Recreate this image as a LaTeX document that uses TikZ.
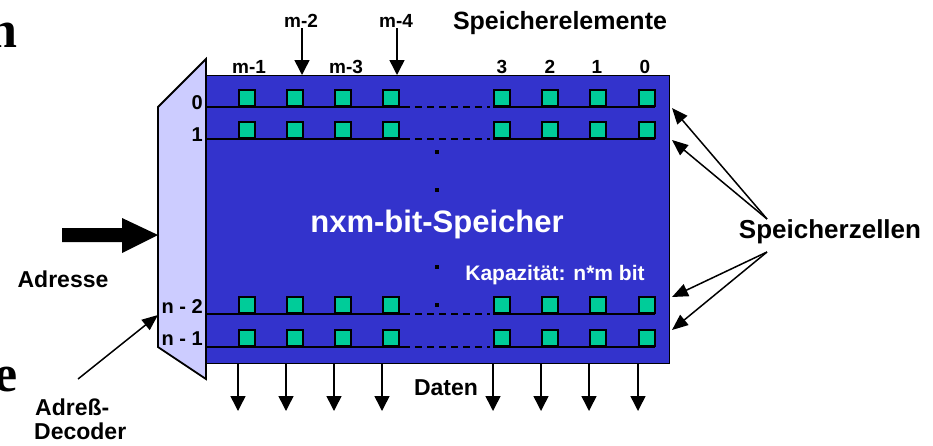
\documentclass[tikz,border=0pt]{standalone}
\usepackage{fontspec}
\setmainfont{Liberation Sans}
\newfontfamily\serifbig{Liberation Serif}
\usetikzlibrary{arrows.meta}
\definecolor{memblue}{HTML}{3333CC}
\definecolor{declav}{HTML}{CCCCFF}
\definecolor{cellgreen}{HTML}{00CC99}
\begin{document}
\begin{tikzpicture}[x=1pt,y=-1pt,
  fs/.style={font=\bfseries\fontsize{#1}{#1}\selectfont, inner sep=0pt},
  cell/.style={draw=black, line width=1.8pt, fill=cellgreen, minimum size=16pt, inner sep=0pt},
  rowline/.style={line width=1.8pt},
  arr/.style={line width=1.5pt, -{Triangle[width=15pt,length=15pt]}},
  thinarr/.style={line width=1.5pt, -{Triangle[width=13pt,length=16pt]}},
  bigletter/.style={font=\serifbig\bfseries\fontsize{52}{52}\selectfont, inner sep=0pt, anchor=base east},
  dotsq/.style={fill=black}
]
\useasboundingbox (0,0) rectangle (933,445);
\clip (0,0) rectangle (933,445);

% cut-off slide letters
\node[bigletter] (bn) at (18,47) {n};
\node[bigletter] (be) at (17.5,391) {e};

% memory block
\node[draw=black, line width=1pt, fill=memblue, minimum width=464pt, minimum height=288pt, inner sep=0pt, anchor=north west] (mem) at (205,75) {};

% rows of cells
\foreach \r/\y in {a/107, b/139, c/314, d/347} {
  \draw[rowline] (206,\y) -- (403,\y);
  \draw[rowline, dash pattern=on 7pt off 5pt] (403,\y) -- (490,\y);
  \draw[rowline] (493,\y) -- (655,\y);
  \foreach \x [count=\i] in {238,286,334,382,493,541,589,638}
    \node[cell, anchor=south west] (\r\i) at (\x,\y) {};
}

% vertical dots
\foreach \yy in {150,188,265,303}
  \fill[dotsq] (435,\yy) rectangle ++(4,4);

% decoder
\draw[line width=1.8pt, fill=declav, line join=miter] (158,107) -- (206,59) -- (206,379) -- (158,347) -- cycle;
\coordinate (decL) at (158,235);

% row labels
\node[fs=20, anchor=base east] (r0) at (203,109) {0};
\node[fs=20, anchor=base east] (r1) at (203,141) {1};
\node[fs=20, anchor=base east] (rn2) at (203,313) {n - 2};
\node[fs=20, anchor=base east] (rn1) at (203,345) {n - 1};

% texts inside memory
\node[fs=31, text=white, anchor=base] (title) at (437,232) {nxm-bit-Speicher};
\node[fs=21, text=white, anchor=base] (kap) at (555,280) {Kapazität: n*m bit};

% column labels
\node[fs=19, anchor=base] (cm1) at (249,73) {m-1};
\node[fs=19, anchor=base] (cm3) at (346,73) {m-3};
\node[fs=19, anchor=base] (c3) at (502,73) {3};
\node[fs=19, anchor=base] (c2) at (550,73) {2};
\node[fs=19, anchor=base] (c1) at (597,73) {1};
\node[fs=19, anchor=base] (c0) at (645,73) {0};

\node[fs=19, anchor=base] (cm2) at (301,27) {m-2};
\node[fs=19, anchor=base] (cm4) at (396,27) {m-4};
\draw[arr] ([xshift=1pt,yshift=-1pt]cm2.south) -- ([xshift=1pt]cm2.south |- mem.north);
\draw[arr] ([xshift=1pt,yshift=-1pt]cm4.south) -- ([xshift=1pt]cm4.south |- mem.north);

\node[fs=25, anchor=base] (selem) at (560,29) {Speicherelemente};

% data outputs
\foreach \i in {1,...,8}
  \draw[arr] (d\i.south west |- mem.south) -- ++(0,47);
\node[fs=23, anchor=base] (daten) at (446,395) {Daten};

% Speicherzellen
\node[fs=26, anchor=base] (szellen) at (830,238) {Speicherzellen};
\coordinate (szU) at (767,219);
\coordinate (szL) at (767,252);
\draw[thinarr] (szU) -- (672,108);
\draw[thinarr] (szU) -- (672,140);
\draw[thinarr] (szL) -- (672,297);
\draw[thinarr] (szL) -- (672,330);

% address arrow
\fill (62,228) -- (122,228) -- (122,218) -- (decL) -- (122,253) -- (122,242) -- (62,242) -- cycle;
\node[fs=23, anchor=base] (adresse) at (63,287) {Adresse};

% address decoder label
\node[fs=23, anchor=base west] (adr1) at (35,415) {Adreß-};
\node[fs=23, anchor=base west] (adr2) at (34,439) {Decoder};
\coordinate (adrStart) at (78,379);
\draw[thinarr] (adrStart) -- (158,315);
\end{tikzpicture}
\end{document}
